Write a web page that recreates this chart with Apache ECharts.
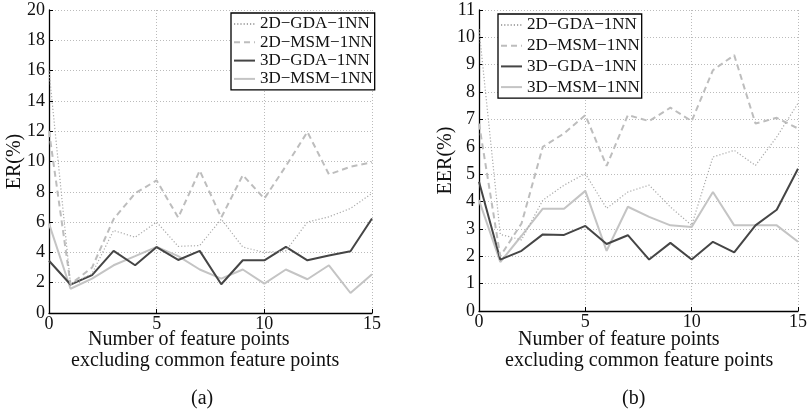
<!DOCTYPE html>
<html>
<head>
<meta charset="utf-8">
<script src="https://cdn.jsdelivr.net/npm/echarts@6/dist/echarts.min.js"></script>
<style>
html,body{margin:0;padding:0;background:#fff;}
#chart{width:810px;height:415px;}
</style>
</head>
<body>
<div id="chart"></div>
<script>
const xValues = [0,1,2,3,4,5,6,7,8,9,10,11,12,13,14,15];
const seriesNames = ['2D\u2212GDA\u22121NN','2D\u2212MSM\u22121NN','3D\u2212GDA\u22121NN','3D\u2212MSM\u22121NN'];

// (a) ER(%)
const a_2dGDA = [16.0, 1.9, 2.6, 5.45, 5.0, 6.0, 4.4, 4.45, 6.2, 4.35, 4.0, 4.1, 6.0, 6.35, 6.9, 7.9];
const a_2dMSM = [12.0, 1.9, 3.0, 6.2, 7.9, 8.75, 6.3, 9.4, 6.3, 9.1, 7.55, 9.7, 11.95, 9.15, 9.65, 9.95];
const a_3dGDA = [3.45, 1.88, 2.5, 4.1, 3.15, 4.35, 3.5, 4.1, 1.9, 3.48, 3.48, 4.36, 3.48, 3.8, 4.08, 6.24];
const a_3dMSM = [5.9, 1.6, 2.27, 3.15, 3.75, 4.36, 3.75, 2.87, 2.27, 2.87, 1.94, 2.87, 2.23, 3.15, 1.32, 2.56];

// (b) EER(%)
const b_2dGDA = [10.3, 2.8, 2.6, 4.05, 4.6, 5.02, 3.75, 4.35, 4.6, 3.8, 3.13, 5.63, 5.87, 5.32, 6.36, 7.59];
const b_2dMSM = [6.85, 2.0, 3.2, 6.0, 6.49, 7.16, 5.3, 7.16, 6.94, 7.43, 6.94, 8.8, 9.35, 6.85, 7.06, 6.67];
const b_3dGDA = [4.72, 1.88, 2.2, 2.8, 2.78, 3.11, 2.45, 2.77, 1.88, 2.49, 1.88, 2.53, 2.14, 3.13, 3.7, 5.2];
const b_3dMSM = [4.05, 1.79, 2.75, 3.74, 3.74, 4.39, 2.2, 3.81, 3.44, 3.13, 3.07, 4.35, 3.13, 3.13, 3.13, 2.53];

const FONT = '"Liberation Serif", "DejaVu Serif", serif';
const styles = [
  {color:'#a9a9a9', width:1.2, type:[1.2,2]},
  {color:'#bdbdbd', width:2, type:[6,4]},
  {color:'#454545', width:2, type:'solid'},
  {color:'#c4c4c4', width:2, type:'solid'}
];

function pairs(arr){ return xValues.map((x,i)=>[x, arr[i]]); }

function makeXAxis(gi){
  return {
    gridIndex: gi, type:'value', min:0, max:15, interval:5,
    axisLine:{show:true, onZero:false, lineStyle:{color:'#000', width:1.3}},
    axisTick:{show:true, inside:true, length:4, lineStyle:{color:'#000'}},
    axisLabel:{color:'#111', fontFamily:FONT, fontSize:18, margin:2},
    splitLine:{show:true, lineStyle:{color:'#bbb', width:1, type:[1,2]}}
  };
}
function makeYAxis(gi, max, interval, name, nameGap){
  return {
    gridIndex: gi, type:'value', min:0, max:max, interval:interval,
    name:name, nameLocation:'middle', nameGap:nameGap, nameRotate:90,
    nameMoveOverlap:false,
    nameTextStyle:{fontFamily:FONT, fontSize:20, color:'#111'},
    axisLine:{show:true, onZero:false, lineStyle:{color:'#000', width:1.3}},
    axisTick:{show:true, inside:true, length:4, lineStyle:{color:'#000'}},
    axisLabel:{color:'#111', fontFamily:FONT, fontSize:18, margin:4},
    splitLine:{show:true, lineStyle:{color:'#bbb', width:1, type:[1,2]}}
  };
}

const dataA = [a_2dGDA, a_2dMSM, a_3dGDA, a_3dMSM];
const dataB = [b_2dGDA, b_2dMSM, b_3dGDA, b_3dMSM];
const series = [];
dataA.forEach((d,i)=>series.push({
  name: seriesNames[i], type:'line', xAxisIndex:0, yAxisIndex:0,
  data: pairs(d), symbol:'none', animation:false,
  lineStyle: styles[i], itemStyle:{color:styles[i].color}, z: 10-i
}));
dataB.forEach((d,i)=>series.push({
  name: seriesNames[i], type:'line', xAxisIndex:1, yAxisIndex:1,
  data: pairs(d), symbol:'none', animation:false,
  lineStyle: styles[i], itemStyle:{color:styles[i].color}, z: 10-i
}));

function legend(left, top, gap){
  return {
    orient:'vertical', left:left, top:top, data:seriesNames,
    itemWidth:21, itemHeight:10, itemGap:gap,
    padding:[2,2,2,2],
    itemStyle:{opacity:0},
    borderColor:'#000', borderWidth:1.3, backgroundColor:'#fff',
    textStyle:{fontFamily:FONT, fontSize:17, color:'#111', lineHeight:18},
    selectedMode:false
  };
}

const chart = echarts.init(document.getElementById('chart'), null, {renderer:'canvas'});
chart.setOption({
  animation:false,
  backgroundColor:'#fff',
  grid:[
    {left:49, top:10, width:323, height:303},
    {left:479, top:10, width:326, height:301}
  ],
  xAxis:[makeXAxis(0), makeXAxis(1)],
  yAxis:[makeYAxis(0, 20, 2, 'ER(%)', 24), makeYAxis(1, 11, 1, 'EER(%)', 23)],
  legend:[legend(231, 13, 0.3), legend(498, 14, 2.7)],
  series: series,
  graphic:[
    {type:'text', left:88, top:330, style:{text:'Number of feature points', font:'20px '+FONT, fill:'#111'}},
    {type:'text', left:71, top:351, style:{text:'excluding common feature points', font:'20px '+FONT, fill:'#111'}},
    {type:'text', left:191, top:389, style:{text:'(a)', font:'20px '+FONT, fill:'#111'}},
    {type:'text', left:518, top:330, style:{text:'Number of feature points', font:'20px '+FONT, fill:'#111'}},
    {type:'text', left:505, top:351, style:{text:'excluding common feature points', font:'20px '+FONT, fill:'#111'}},
    {type:'text', left:622, top:389, style:{text:'(b)', font:'20px '+FONT, fill:'#111'}}
  ]
});
</script>
</body>
</html>
